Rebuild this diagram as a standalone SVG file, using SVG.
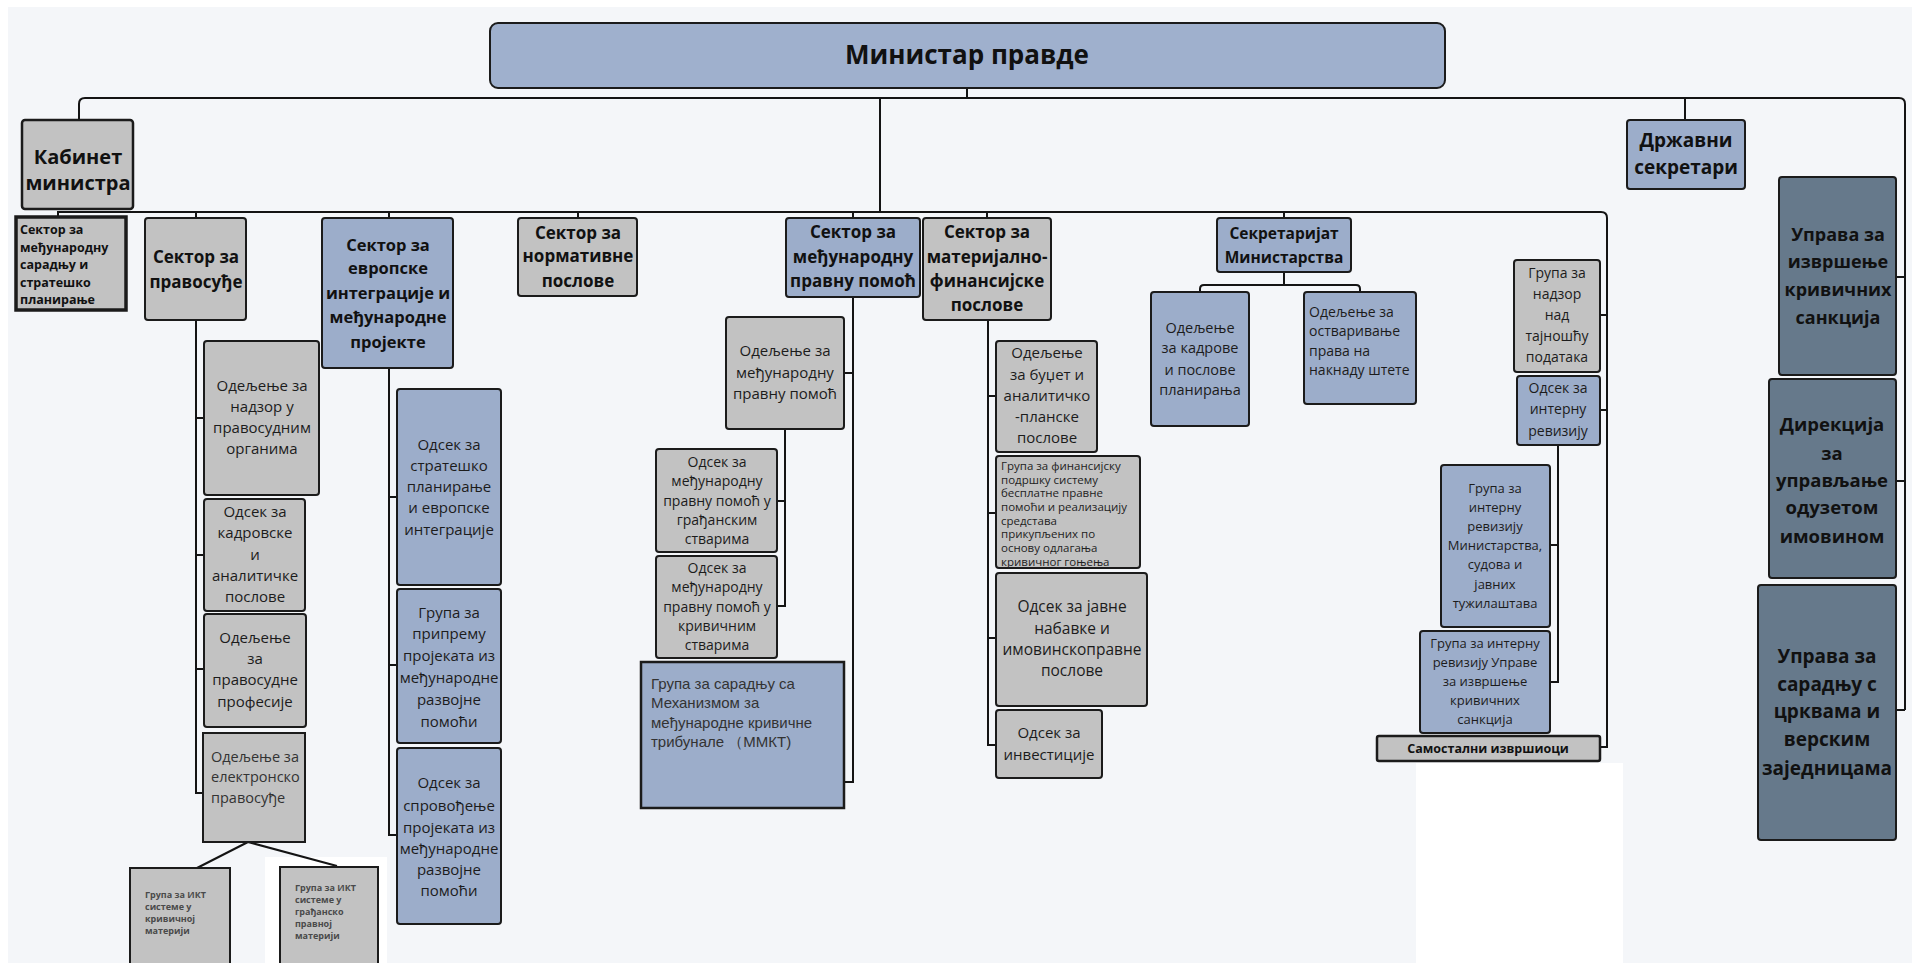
<svg xmlns="http://www.w3.org/2000/svg" width="1912" height="963" viewBox="0 0 1912 963">
<style>
.bg{fill:#f4f6f9}
.box{stroke:#1b1b1b;stroke-width:2}
.g{fill:#c2c2c2}.b{fill:#9cadca}.d{fill:#66798b}
.ln{fill:none;stroke:#141414;stroke-width:2}
text{font-family:"Open Sans","Noto Sans","DejaVu Sans",sans-serif;fill:#1c1c1c}
.h{font-weight:700;font-size:17px;text-anchor:middle;fill:#111}
.t{font-size:15px;text-anchor:middle}
.l{text-anchor:start}
.s{font-size:11.5px;fill:#222}
.ict{font-size:9px;font-weight:700;fill:#4a4a4a}
.ar{font-family:"Liberation Sans",Arial,sans-serif;font-size:15px;fill:#333}
</style>
<rect width="1912" height="963" fill="#ffffff"/>
<rect class="bg" x="8" y="7" width="1904" height="956"/>
<rect x="1416" y="763" width="207" height="200" fill="#ffffff"/>
<rect x="265" y="857" width="122" height="106" fill="#ffffff"/>

<g id="connectors">
<path class="ln" d="M79,120 V104 Q79,98 85,98 H1899 Q1905,98 1905,104 V710"/>
<path class="ln" d="M967,88 V98 M880,98 V212 M1685,98 V120"/>
<path class="ln" d="M1896,277 H1905 M1896,481 H1905 M1896,710 H1905"/>
<path class="ln" d="M58,218 V212 H1601 Q1607,212 1607,218 V747 H1600"/>
<path class="ln" d="M196,212 V218 M389,212 V218 M578,212 V218 M853,212 V218 M987,212 V218 M1284,212 V218"/>
<path class="ln" d="M1600,315 H1607 M1600,410 H1607"/>
<path class="ln" d="M196,320 V793 H204 M196,418 H204 M196,555 H204 M196,669 H204"/>
<path class="ln" d="M248,842 L197,868 M248,842 L337,866"/>
<path class="ln" d="M389,368 V835 H397 M389,497 H397 M389,665 H397"/>
<path class="ln" d="M853,297 V782 H844 M853,373 H844"/>
<path class="ln" d="M785,429 V606 H777 M785,501 H777"/>
<path class="ln" d="M988,320 V745 H996 M988,396 H996 M988,513 H996 M988,638 H996"/>
<path class="ln" d="M1284,272 V285 M1200,292 V289 Q1200,285 1204,285 H1356 Q1360,285 1360,289 V292"/>
<path class="ln" d="M1558,445 V682 H1550 M1558,545 H1550"/>
</g>

<g id="minister">
<rect class="box" x="490" y="23" width="955" height="65" rx="8" fill="#9fb0cd"/>
<text class="h" x="967" y="64" style="font-size:26px">Министар правде</text>
</g>

<g id="kabinet">
<rect class="box g" x="22" y="120" width="111" height="89" rx="3" style="stroke-width:2.5"/>
<text class="h" style="font-size:20px"><tspan x="78" y="164">Кабинет</tspan><tspan x="78" y="190">министра</tspan></text>
</g>

<g id="sektor-medj-saradnja">
<rect class="box g" x="16" y="217" width="110" height="93" style="stroke-width:3.5"/>
<text class="h l" style="font-size:12.5px"><tspan x="20" y="234">Сектор за</tspan><tspan x="20" y="252">међународну</tspan><tspan x="20" y="269">сарадњу и</tspan><tspan x="20" y="287">стратешко</tspan><tspan x="20" y="304">планирање</tspan></text>
</g>

<g id="sektor-pravosudje">
<rect class="box g" x="145" y="218" width="101" height="102" rx="3"/>
<text class="h"><tspan x="196" y="263">Сектор за</tspan><tspan x="196" y="288">правосуђе</tspan></text>
</g>

<g id="sektor-evropske">
<rect class="box b" x="322" y="218" width="131" height="150" rx="3"/>
<text class="h" style="font-size:16.5px"><tspan x="388" y="251">Сектор за</tspan><tspan x="388" y="274">европске</tspan><tspan x="388" y="299">интеграције и</tspan><tspan x="388" y="323">међународне</tspan><tspan x="388" y="348">пројекте</tspan></text>
</g>

<g id="sektor-normativne">
<rect class="box g" x="518" y="218" width="119" height="78" rx="3"/>
<text class="h"><tspan x="578" y="239">Сектор за</tspan><tspan x="578" y="262">нормативне</tspan><tspan x="578" y="287">послове</tspan></text>
</g>

<g id="sektor-mpp">
<rect class="box b" x="786" y="218" width="134" height="79" rx="3"/>
<text class="h"><tspan x="853" y="238">Сектор за</tspan><tspan x="853" y="263">међународну</tspan><tspan x="853" y="287">правну помоћ</tspan></text>
</g>

<g id="sektor-materijalno">
<rect class="box g" x="923" y="218" width="128" height="102" rx="3"/>
<text class="h"><tspan x="987" y="238">Сектор за</tspan><tspan x="987" y="263">материјално-</tspan><tspan x="987" y="287">финансијске</tspan><tspan x="987" y="311">послове</tspan></text>
</g>

<g id="sekretarijat">
<rect class="box b" x="1217" y="218" width="134" height="54" rx="3"/>
<text class="h" style="font-size:15.5px"><tspan x="1284" y="239">Секретаријат</tspan><tspan x="1284" y="263">Министарства</tspan></text>
</g>

<g id="drzavni-sekretari">
<rect class="box b" x="1627" y="120" width="118" height="69" rx="3"/>
<text class="h" style="font-size:19px"><tspan x="1686" y="147">Државни</tspan><tspan x="1686" y="174">секретари</tspan></text>
</g>

<g id="uprava-sankcije">
<rect class="box d" x="1779" y="177" width="117" height="198" rx="3"/>
<text class="h" style="font-size:18px"><tspan x="1838" y="241">Управа за</tspan><tspan x="1838" y="268">извршење</tspan><tspan x="1838" y="296">кривичних</tspan><tspan x="1838" y="324">санкција</tspan></text>
</g>

<g id="direkcija">
<rect class="box d" x="1769" y="379" width="127" height="199" rx="3"/>
<text class="h" style="font-size:18.5px"><tspan x="1832" y="431">Дирекција</tspan><tspan x="1832" y="460">за</tspan><tspan x="1832" y="487">управљање</tspan><tspan x="1832" y="514">одузетом</tspan><tspan x="1832" y="543">имовином</tspan></text>
</g>

<g id="uprava-crkve">
<rect class="box d" x="1758" y="585" width="138" height="255" rx="3"/>
<text class="h" style="font-size:19px"><tspan x="1827" y="663">Управа за</tspan><tspan x="1827" y="691">сарадњу с</tspan><tspan x="1827" y="718">црквама и</tspan><tspan x="1827" y="746">верским</tspan><tspan x="1827" y="775">заједницама</tspan></text>
</g>

<g id="odeljenje-nadzor">
<rect class="box g" x="204" y="341" width="115" height="154" rx="3"/>
<text class="t"><tspan x="262" y="391">Одељење за</tspan><tspan x="262" y="412">надзор у</tspan><tspan x="262" y="433">правосудним</tspan><tspan x="262" y="454">органима</tspan></text>
</g>

<g id="odsek-kadrovske">
<rect class="box g" x="204" y="499" width="101" height="112" rx="3"/>
<text class="t"><tspan x="255" y="517">Одсек за</tspan><tspan x="255" y="538">кадровске</tspan><tspan x="255" y="560">и</tspan><tspan x="255" y="581">аналитичке</tspan><tspan x="255" y="602">послове</tspan></text>
</g>

<g id="odeljenje-profesije">
<rect class="box g" x="204" y="614" width="102" height="113" rx="3"/>
<text class="t"><tspan x="255" y="643">Одељење</tspan><tspan x="255" y="664">за</tspan><tspan x="255" y="685">правосудне</tspan><tspan x="255" y="707">професије</tspan></text>
</g>

<g id="odeljenje-elektronsko">
<rect class="box g" x="203" y="733" width="102" height="109"/>
<text class="t l" style="font-size:14.5px;fill:#333"><tspan x="211" y="762">Одељење за</tspan><tspan x="211" y="782">електронско</tspan><tspan x="211" y="803">правосуђе</tspan></text>
</g>

<g id="grupa-ikt-krivicna">
<rect class="box g" x="130" y="868" width="100" height="100"/>
<text class="ict"><tspan x="145" y="898">Група за ИКТ</tspan><tspan x="145" y="910">системе у</tspan><tspan x="145" y="922">кривичној</tspan><tspan x="145" y="934">материји</tspan></text>
</g>

<g id="grupa-ikt-gradjanska">
<rect class="box g" x="280" y="867" width="98" height="100"/>
<text class="ict"><tspan x="295" y="891">Група за ИКТ</tspan><tspan x="295" y="903">системе у</tspan><tspan x="295" y="915">грађанско</tspan><tspan x="295" y="927">правној</tspan><tspan x="295" y="939">материји</tspan></text>
</g>

<g id="odsek-stratesko">
<rect class="box b" x="397" y="389" width="104" height="196" rx="3"/>
<text class="t"><tspan x="449" y="450">Одсек за</tspan><tspan x="449" y="471">стратешко</tspan><tspan x="449" y="492">планирање</tspan><tspan x="449" y="513">и европске</tspan><tspan x="449" y="535">интеграције</tspan></text>
</g>

<g id="grupa-priprema">
<rect class="box b" x="397" y="589" width="104" height="154" rx="3"/>
<text class="t"><tspan x="449" y="618">Група за</tspan><tspan x="449" y="639">припрему</tspan><tspan x="449" y="661">пројеката из</tspan><tspan x="449" y="683">међународне</tspan><tspan x="449" y="705">развојне</tspan><tspan x="449" y="727">помоћи</tspan></text>
</g>

<g id="odsek-sprovodjenje">
<rect class="box b" x="397" y="748" width="104" height="176" rx="3"/>
<text class="t"><tspan x="449" y="788">Одсек за</tspan><tspan x="449" y="811">спровођење</tspan><tspan x="449" y="833">пројеката из</tspan><tspan x="449" y="854">међународне</tspan><tspan x="449" y="875">развојне</tspan><tspan x="449" y="896">помоћи</tspan></text>
</g>

<g id="odeljenje-mpp">
<rect class="box g" x="726" y="317" width="118" height="112" rx="3"/>
<text class="t"><tspan x="785" y="356">Одељење за</tspan><tspan x="785" y="378">међународну</tspan><tspan x="785" y="399">правну помоћ</tspan></text>
</g>

<g id="odsek-gradjanske">
<rect class="box g" x="656" y="449" width="121" height="103" rx="3"/>
<text class="t" style="font-size:14px"><tspan x="717" y="467">Одсек за</tspan><tspan x="717" y="486">међународну</tspan><tspan x="717" y="506">правну помоћ у</tspan><tspan x="717" y="525">грађанским</tspan><tspan x="717" y="544">стварима</tspan></text>
</g>

<g id="odsek-krivicne">
<rect class="box g" x="656" y="556" width="121" height="102" rx="3"/>
<text class="t" style="font-size:14px"><tspan x="717" y="573">Одсек за</tspan><tspan x="717" y="592">међународну</tspan><tspan x="717" y="612">правну помоћ у</tspan><tspan x="717" y="631">кривичним</tspan><tspan x="717" y="650">стварима</tspan></text>
</g>

<g id="grupa-mmkt">
<rect class="box b" x="641" y="662" width="203" height="146" style="stroke-width:2.5"/>
<text class="ar"><tspan x="651" y="689">Група за сарадњу са</tspan><tspan x="651" y="708">Механизмом за</tspan><tspan x="651" y="728">међународне кривичне</tspan><tspan x="651" y="747">трибунале （ММКТ)</tspan></text>
</g>

<g id="odeljenje-budzet">
<rect class="box g" x="996" y="341" width="101" height="111" rx="3"/>
<text class="t"><tspan x="1047" y="358">Одељење</tspan><tspan x="1047" y="380">за буџет и</tspan><tspan x="1047" y="401">аналитичко</tspan><tspan x="1047" y="422">-планске</tspan><tspan x="1047" y="443">послове</tspan></text>
</g>

<g id="grupa-finansijska">
<rect class="box g" x="996" y="456" width="144" height="112" rx="3"/>
<text class="s"><tspan x="1001" y="470">Група за финансијску</tspan><tspan x="1001" y="484">подршку систему</tspan><tspan x="1001" y="497">бесплатне правне</tspan><tspan x="1001" y="511">помоћи и реализацију</tspan><tspan x="1001" y="525">средстава</tspan><tspan x="1001" y="538">прикупљених по</tspan><tspan x="1001" y="552">основу одлагања</tspan><tspan x="1001" y="566">кривичног гоњења</tspan></text>
</g>

<g id="odsek-nabavke">
<rect class="box g" x="996" y="573" width="151" height="133" rx="3"/>
<text class="t" style="font-size:15.5px"><tspan x="1072" y="612">Одсек за јавне</tspan><tspan x="1072" y="634">набавке и</tspan><tspan x="1072" y="655">имовинскоправне</tspan><tspan x="1072" y="676">послове</tspan></text>
</g>

<g id="odsek-investicije">
<rect class="box g" x="996" y="710" width="106" height="68" rx="3"/>
<text class="t"><tspan x="1049" y="738">Одсек за</tspan><tspan x="1049" y="760">инвестиције</tspan></text>
</g>

<g id="odeljenje-kadrovi">
<rect class="box b" x="1151" y="292" width="98" height="134" rx="3"/>
<text class="t" style="font-size:14.5px"><tspan x="1200" y="333">Одељење</tspan><tspan x="1200" y="353">за кадрове</tspan><tspan x="1200" y="375">и послове</tspan><tspan x="1200" y="395">планирања</tspan></text>
</g>

<g id="odeljenje-naknada">
<rect class="box b" x="1304" y="292" width="112" height="112" rx="3"/>
<text class="t l" style="font-size:14px"><tspan x="1309" y="317">Одељење за</tspan><tspan x="1309" y="336">остваривање</tspan><tspan x="1309" y="356">права на</tspan><tspan x="1309" y="375">накнаду штете</tspan></text>
</g>

<g id="grupa-tajnost">
<rect class="box g" x="1514" y="260" width="86" height="112" rx="3"/>
<text class="t" style="font-size:14px"><tspan x="1557" y="278">Група за</tspan><tspan x="1557" y="299">надзор</tspan><tspan x="1557" y="320">над</tspan><tspan x="1557" y="341">тајношћу</tspan><tspan x="1557" y="362">података</tspan></text>
</g>

<g id="odsek-interna-revizija">
<rect class="box b" x="1517" y="376" width="83" height="69" rx="3"/>
<text class="t" style="font-size:14px"><tspan x="1558" y="393">Одсек за</tspan><tspan x="1558" y="414">интерну</tspan><tspan x="1558" y="436">ревизију</tspan></text>
</g>

<g id="grupa-revizija-ministarstva">
<rect class="box b" x="1441" y="465" width="109" height="162" rx="3"/>
<text class="t" style="font-size:13px"><tspan x="1495" y="493">Група за</tspan><tspan x="1495" y="512">интерну</tspan><tspan x="1495" y="531">ревизију</tspan><tspan x="1495" y="550">Министарства,</tspan><tspan x="1495" y="569">судова и</tspan><tspan x="1495" y="589">јавних</tspan><tspan x="1495" y="608">тужилаштава</tspan></text>
</g>

<g id="grupa-revizija-uprave">
<rect class="box b" x="1420" y="631" width="130" height="102" rx="3"/>
<text class="t" style="font-size:13px"><tspan x="1485" y="648">Група за интерну</tspan><tspan x="1485" y="667">ревизију Управе</tspan><tspan x="1485" y="686">за извршење</tspan><tspan x="1485" y="705">кривичних</tspan><tspan x="1485" y="724">санкција</tspan></text>
</g>

<g id="samostalni-izvrsioci">
<rect class="box g" x="1377" y="736" width="223" height="25" rx="2" style="stroke-width:2.5"/>
<text class="h" x="1488" y="753" style="font-size:12.5px">Самостални извршиоци</text>
</g>
</svg>
